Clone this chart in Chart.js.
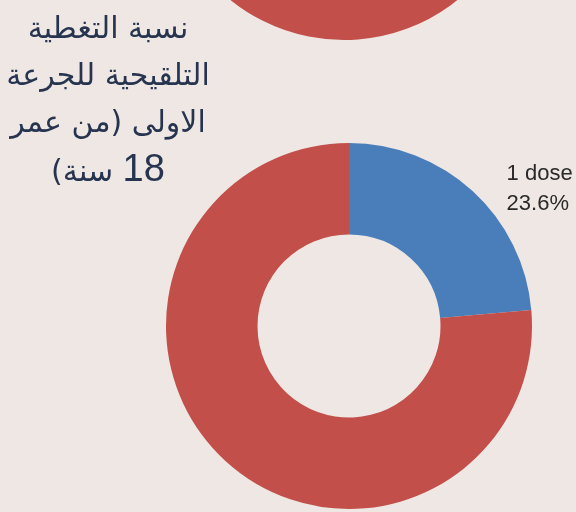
<!DOCTYPE html>
<html>
<head>
<meta charset="utf-8">
<script src="https://cdn.jsdelivr.net/npm/chart.js@4.4.1/dist/chart.umd.min.js"></script>
<style>
  html, body { margin: 0; padding: 0; }
  body { width: 576px; height: 512px; overflow: hidden; background: #efe7e3; position: relative; }
  #topWrap { position: absolute; left: 0; top: -322px; width: 576px; height: 370px; }
  #mainWrap { position: absolute; left: 0; top: 0; width: 576px; height: 512px; }
  #title { position: absolute; left: 0; top: 4px; width: 216px; direction: rtl; text-align: center;
           font-family: "DejaVu Sans", sans-serif; font-size: 30px; line-height: 47px; color: #27344f; }
  #title .num { font-family: "Liberation Sans", sans-serif; font-size: 38px; }
</style>
</head>
<body>
<div id="topWrap"><canvas id="topChart" width="576" height="370"></canvas></div>
<div id="mainWrap"><canvas id="mainChart" width="576" height="512"></canvas></div>
<div id="title">نسبة التغطية<br>التلقيحية للجرعة<br>الاولى (من عمر<br><span class="num">18</span> سنة)</div>
<script>
// Data
const mainLabels = ['1 dose', 'Not vaccinated'];
const mainValues = [23.6, 76.4];
const topLabels = ['2 doses', 'Other'];
const topValues = [15.0, 85.0]; // upper chart is cropped: only its red part is visible (estimate)
const sliceColors = ['#4a7ebb', '#c24f4a'];

const labelPlugin = {
  id: 'sliceLabel',
  afterDatasetsDraw(chart) {
    const ctx = chart.ctx;
    const meta = chart.getDatasetMeta(0);
    const arc = meta.data[0];
    const mid = (arc.startAngle + arc.endAngle) / 2;
    const px = arc.x + Math.cos(mid) * arc.outerRadius;
    const py = arc.y + Math.sin(mid) * arc.outerRadius;
    ctx.save();
    ctx.fillStyle = '#2a2a2a';
    ctx.font = '22px "Liberation Sans Narrow", "Liberation Sans", sans-serif';
    ctx.textAlign = 'left';
    ctx.textBaseline = 'alphabetic';
    const x = px + 34;
    ctx.fillText(mainLabels[0], x, py - 11);
    ctx.fillText(mainValues[0].toFixed(1) + '%', x, py + 19);
    ctx.restore();
  }
};

const common = {
  responsive: false,
  animation: false,
  plugins: { legend: { display: false }, tooltip: { enabled: false }, title: { display: false } },
  cutout: '50%',
  rotation: 0
};

new Chart(document.getElementById('topChart'), {
  type: 'doughnut',
  data: { labels: topLabels, datasets: [{ data: topValues, backgroundColor: sliceColors, borderWidth: 0 }] },
  options: Object.assign({}, common, { layout: { padding: { left: 163, right: 51, top: 0, bottom: 8 } } })
});

new Chart(document.getElementById('mainChart'), {
  type: 'doughnut',
  data: { labels: mainLabels, datasets: [{ data: mainValues, backgroundColor: sliceColors, borderWidth: 0 }] },
  options: Object.assign({}, common, { layout: { padding: { left: 166, right: 44, top: 143, bottom: 3 } } }),
  plugins: [labelPlugin]
});
</script>
</body>
</html>
